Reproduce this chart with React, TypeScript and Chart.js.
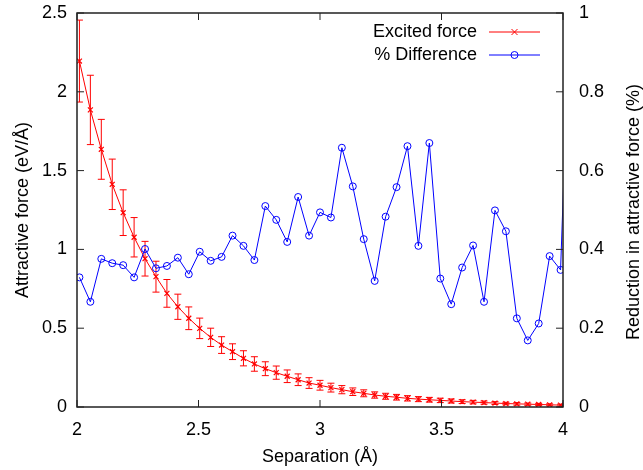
import React, { useEffect, useRef } from "react";
import { Chart, registerables } from "chart.js";

Chart.register(...registerables);

// Separation in Å (x positions of the samples)
const separation = [
  2.01, 2.055, 2.1, 2.145, 2.19, 2.235, 2.28, 2.325, 2.37, 2.415,
  2.46, 2.505, 2.55, 2.595, 2.64, 2.685, 2.73, 2.775, 2.82, 2.865,
  2.91, 2.955, 3.0, 3.045, 3.09, 3.135, 3.18, 3.225, 3.27, 3.315,
  3.36, 3.405, 3.45, 3.495, 3.54, 3.585, 3.63, 3.675, 3.72, 3.765,
  3.81, 3.855, 3.9, 3.945, 3.99, 4.035,
];

// Excited force (eV/Å)
const excitedForce = [
  2.195, 1.885, 1.635, 1.413, 1.233, 1.077, 0.941, 0.827, 0.721, 0.636,
  0.563, 0.499, 0.442, 0.393, 0.351, 0.309, 0.273, 0.243, 0.218, 0.195,
  0.173, 0.152, 0.138, 0.123, 0.11, 0.097, 0.087, 0.076, 0.068, 0.062,
  0.055, 0.05, 0.046, 0.042, 0.038, 0.034, 0.031, 0.028, 0.025, 0.022,
  0.02, 0.018, 0.016, 0.014, 0.012, 0.011,
];

// Error bar half-heights for the excited force
const excitedForceError = [
  0.26, 0.22, 0.19, 0.16, 0.145, 0.125, 0.11, 0.098, 0.088, 0.08,
  0.072, 0.065, 0.058, 0.053, 0.05, 0.048, 0.046, 0.044, 0.042, 0.04,
  0.037, 0.034, 0.031, 0.028, 0.026, 0.024, 0.022, 0.02, 0.019, 0.018,
  0.017, 0.016, 0.015, 0.014, 0.013, 0.012, 0.011, 0.01, 0.009, 0.008,
  0.008, 0.007, 0.007, 0.006, 0.006, 0.006,
];

// % Difference (right axis)
const percentDifference = [
  0.329, 0.267, 0.376, 0.365, 0.36, 0.329, 0.401, 0.352, 0.358, 0.379,
  0.337, 0.394, 0.371, 0.381, 0.435, 0.409, 0.373, 0.51, 0.475, 0.419,
  0.533, 0.435, 0.494, 0.481, 0.658, 0.56, 0.426, 0.32, 0.483, 0.558,
  0.662, 0.409, 0.67, 0.326, 0.261, 0.354, 0.41, 0.267, 0.499, 0.446,
  0.225, 0.169, 0.212, 0.383, 0.348, 1.14,
];

const seriesLabels = ["Excited force", "% Difference"];

const xTicks = [2, 2.5, 3, 3.5, 4];
const xTickLabels = ["2", "2.5", "3", "3.5", "4"];
const yTicks = [0, 0.5, 1, 1.5, 2, 2.5];
const yTickLabels = ["0", "0.5", "1", "1.5", "2", "2.5"];
const y2Ticks = [0, 0.2, 0.4, 0.6, 0.8, 1];
const y2TickLabels = ["0", "0.2", "0.4", "0.6", "0.8", "1"];

const xTitle = "Separation (Å)";
const yTitle = "Attractive force (eV/Å)";
const y2Title = "Reduction in attractive force (%)";

const FAMILY = '"Liberation Sans", Arial, Helvetica, sans-serif';
const FONT_SIZE = 18;
const RED = "#ff0000";
const BLUE = "#0000ff";

const decorPlugin = {
  id: "decor",
  beforeDatasetsDraw(chart: any) {
    const { ctx, chartArea: a } = chart;
    const xs = chart.scales.x;
    const ys = chart.scales.y;
    ctx.save();
    ctx.beginPath();
    ctx.rect(a.left, a.top, a.right - a.left, a.bottom - a.top);
    ctx.clip();
    ctx.strokeStyle = RED;
    ctx.lineWidth = 1;
    separation.forEach((s, i) => {
      const px = xs.getPixelForValue(s);
      const top = ys.getPixelForValue(excitedForce[i] + excitedForceError[i]);
      const bot = ys.getPixelForValue(excitedForce[i] - excitedForceError[i]);
      ctx.beginPath();
      ctx.moveTo(px, top);
      ctx.lineTo(px, bot);
      ctx.moveTo(px - 3.5, top);
      ctx.lineTo(px + 3.5, top);
      ctx.moveTo(px - 3.5, bot);
      ctx.lineTo(px + 3.5, bot);
      ctx.stroke();
    });
    ctx.restore();
  },
  afterDraw(chart: any) {
    const { ctx, chartArea: a } = chart;
    const xs = chart.scales.x;
    const ys = chart.scales.y;
    const y2s = chart.scales.y2;
    const TL = 7;
    ctx.save();
    // ticks (inward)
    ctx.strokeStyle = "#222";
    ctx.lineWidth = 1;
    ctx.beginPath();
    xTicks.forEach((v) => {
      const px = xs.getPixelForValue(v);
      ctx.moveTo(px, a.bottom);
      ctx.lineTo(px, a.bottom - TL);
      ctx.moveTo(px, a.top);
      ctx.lineTo(px, a.top + TL);
    });
    yTicks.forEach((v) => {
      const py = ys.getPixelForValue(v);
      ctx.moveTo(a.left, py);
      ctx.lineTo(a.left + TL, py);
    });
    y2Ticks.forEach((v) => {
      const py = y2s.getPixelForValue(v);
      ctx.moveTo(a.right, py);
      ctx.lineTo(a.right - TL, py);
    });
    ctx.stroke();
    // frame
    ctx.lineWidth = 1.5;
    ctx.strokeRect(a.left, a.top, a.right - a.left, a.bottom - a.top);

    // legend
    ctx.font = `${FONT_SIZE}px ${FAMILY}`;
    ctx.textAlign = "right";
    ctx.textBaseline = "middle";
    const rows = [
      { label: chart.data.datasets[0].label, color: RED, mark: "x", y: 32 },
      { label: chart.data.datasets[1].label, color: BLUE, mark: "o", y: 55 },
    ];
    rows.forEach((r) => {
      ctx.fillStyle = "#000";
      ctx.fillText(r.label, 477, r.y);
      ctx.strokeStyle = r.color;
      ctx.lineWidth = 1;
      ctx.beginPath();
      ctx.moveTo(489, r.y);
      ctx.lineTo(540, r.y);
      ctx.stroke();
      ctx.beginPath();
      if (r.mark === "x") {
        ctx.moveTo(514.5 - 3, r.y - 3);
        ctx.lineTo(514.5 + 3, r.y + 3);
        ctx.moveTo(514.5 - 3, r.y + 3);
        ctx.lineTo(514.5 + 3, r.y - 3);
      } else {
        ctx.arc(514.5, r.y, 3.5, 0, Math.PI * 2);
      }
      ctx.stroke();
    });

    // right axis title (reads bottom to top)
    ctx.fillStyle = "#000";
    ctx.translate(634, (a.top + a.bottom) / 2 + 2);
    ctx.rotate(-Math.PI / 2);
    ctx.textAlign = "center";
    ctx.textBaseline = "middle";
    ctx.fillText(y2Title, 0, 0);
    ctx.restore();
  },
};

export default function App() {
  const canvasRef = useRef<HTMLCanvasElement | null>(null);

  useEffect(() => {
    const canvas = canvasRef.current;
    if (!canvas) return;
    const font = { family: FAMILY, size: FONT_SIZE };
    const chart = new Chart(canvas, {
      type: "line",
      data: {
        datasets: [
          {
            label: seriesLabels[0],
            data: separation.map((x, i) => ({ x, y: excitedForce[i] })),
            borderColor: RED,
            backgroundColor: RED,
            borderWidth: 1,
            pointStyle: "crossRot",
            pointRadius: 3.5,
            pointBorderColor: RED,
            pointBorderWidth: 1.2,
            tension: 0,
            yAxisID: "y",
            order: 1,
          },
          {
            label: seriesLabels[1],
            data: separation.map((x, i) => ({ x, y: percentDifference[i] })),
            borderColor: BLUE,
            backgroundColor: "rgba(0,0,0,0)",
            borderWidth: 1,
            pointStyle: "circle",
            pointRadius: 3.5,
            pointBorderColor: BLUE,
            pointBackgroundColor: "rgba(0,0,0,0)",
            pointBorderWidth: 1,
            tension: 0,
            yAxisID: "y2",
            order: 0,
          },
        ],
      },
      options: {
        animation: false,
        responsive: false,
        maintainAspectRatio: false,
        devicePixelRatio: 1,
        events: [],
        layout: { padding: { top: 13, left: 0, right: 0, bottom: 0 } },
        plugins: {
          legend: { display: false },
          tooltip: { enabled: false },
          title: { display: false },
        },
        scales: {
          x: {
            type: "linear",
            position: "bottom",
            min: 2,
            max: 4,
            afterBuildTicks: (s: any) => {
              s.ticks = xTicks.map((v) => ({ value: v }));
            },
            afterFit: (s: any) => {
              s.height = 63;
              s.paddingLeft = 0;
              s.paddingRight = 0;
            },
            ticks: {
              callback: (_v: any, i: number) => xTickLabels[i],
              font,
              color: "#000",
              padding: 12,
              maxRotation: 0,
              autoSkip: false,
            },
            grid: { display: false, drawTicks: false },
            border: { display: false },
            title: {
              display: true,
              text: xTitle,
              font,
              color: "#000",
              padding: { top: 0, bottom: 2 },
            },
          },
          y: {
            type: "linear",
            position: "left",
            min: 0,
            max: 2.5,
            afterBuildTicks: (s: any) => {
              s.ticks = yTicks.map((v) => ({ value: v }));
            },
            afterFit: (s: any) => {
              s.width = 77;
              s.paddingTop = 0;
              s.paddingBottom = 0;
            },
            ticks: {
              callback: (_v: any, i: number) => yTickLabels[i],
              font,
              color: "#000",
              padding: 10,
              autoSkip: false,
            },
            grid: { display: false, drawTicks: false },
            border: { display: false },
            title: {
              display: true,
              text: yTitle,
              font,
              color: "#000",
              padding: { top: 12, bottom: 0 },
            },
          },
          y2: {
            type: "linear",
            position: "right",
            min: 0,
            max: 1,
            afterBuildTicks: (s: any) => {
              s.ticks = y2Ticks.map((v) => ({ value: v }));
            },
            afterFit: (s: any) => {
              s.width = 80;
              s.paddingTop = 0;
              s.paddingBottom = 0;
            },
            ticks: {
              callback: (_v: any, i: number) => y2TickLabels[i],
              font,
              color: "#000",
              padding: 16,
              autoSkip: false,
            },
            grid: { display: false, drawTicks: false },
            border: { display: false },
            title: { display: false },
          },
        },
      },
      plugins: [decorPlugin],
    } as any);
    return () => chart.destroy();
  }, []);

  return (
    <div style={{ position: "fixed", left: 0, top: 0, width: 643, height: 470, background: "#fff" }}>
      <canvas ref={canvasRef} width={643} height={470} style={{ width: 643, height: 470, display: "block" }} />
    </div>
  );
}
